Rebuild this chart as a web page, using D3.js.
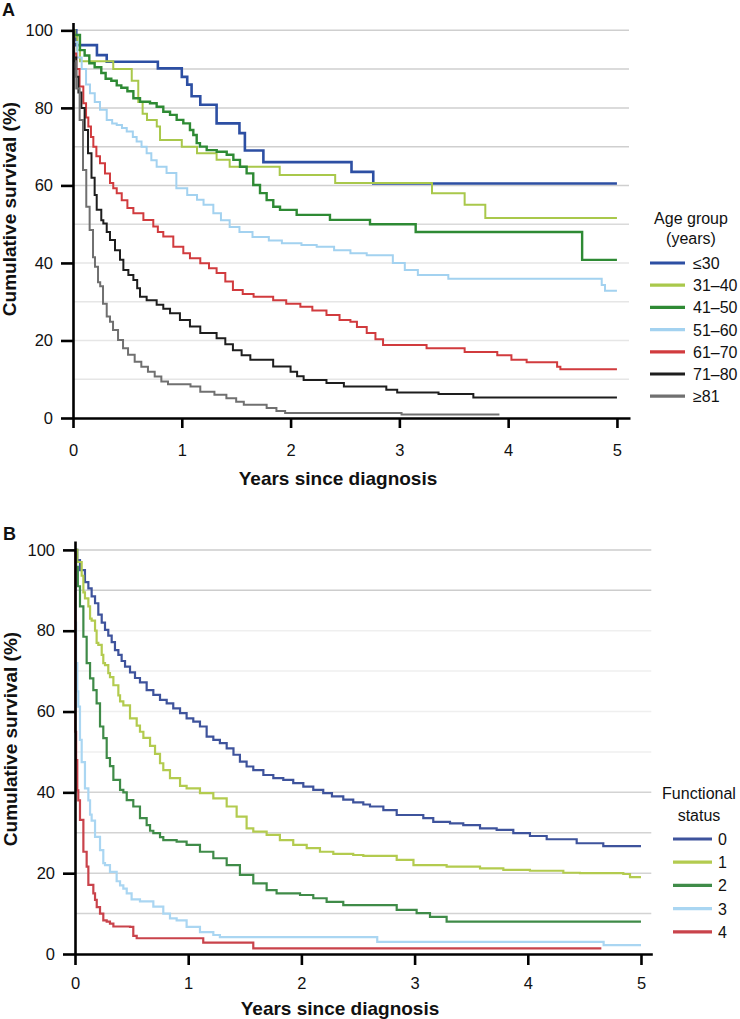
<!DOCTYPE html>
<html><head><meta charset="utf-8">
<script src="https://cdn.jsdelivr.net/npm/d3@7"></script>
<style>
body{margin:0;background:#fff}
svg{display:block}
text{font-family:"Liberation Sans",Arial,Helvetica,sans-serif;fill:#111}
</style>
</head><body>
<svg id="chart" width="740" height="1019"></svg>
<script>
// ---------- Panel A data : [years, survival %] (Kaplan–Meier steps) ----------
const ageGroups = ["≤30","31–40","41–50","51–60","61–70","71–80","≥81"];
const ageColors = ["#2d4fa3","#a9c84b","#2e8a34","#a3d2f0","#d13b3e","#1e1e1e","#707070"];
const age_le30 = [[0,100],[0.03,96.2],[0.22,93.6],[0.31,91.9],[0.78,90.2],[1.0,88],[1.05,86],[1.09,83],[1.17,80.8],[1.32,76],[1.53,73.5],[1.58,69],[1.75,66],[2.56,63.5],[2.76,60.5],[5,60.5]];
const age_31_40 = [[0,100],[0.02,98.4],[0.04,94.9],[0.064,92],[0.37,90],[0.54,87],[0.6,81.5],[0.64,78.5],[0.68,76.9],[0.77,75.2],[0.8,71.7],[1.0,70],[1.14,68.3],[1.32,66.6],[1.44,64.8],[1.9,62.7],[2.41,60.6],[3.3,58],[3.6,55],[3.79,51.6],[5,51.6]];
const age_41_50 = [[0,100],[0.01,98.8],[0.064,94.9],[0.107,93.5],[0.15,91.5],[0.199,90.5],[0.26,89],[0.3,87.5],[0.352,87],[0.402,85.8],[0.444,85.2],[0.5,84.3],[0.555,82.5],[0.616,81.6],[0.708,81.2],[0.769,80.3],[0.83,79],[0.892,78.2],[0.953,76.9],[1.014,76],[1.075,74.3],[1.106,73],[1.137,70.9],[1.167,70],[1.229,69.1],[1.321,68.7],[1.413,67.9],[1.474,66.6],[1.535,64.8],[1.596,63.1],[1.657,60.1],[1.719,58],[1.78,56.2],[1.841,54.5],[1.903,53.7],[2.056,52.4],[2.362,51.1],[2.73,50],[3.15,48],[4.68,40.8],[5,40.8]];
const age_51_60 = [[0,100],[0.01,97],[0.04,93],[0.08,90],[0.12,86],[0.156,83.8],[0.2,81.5],[0.248,79.5],[0.31,76.9],[0.36,76],[0.402,75.6],[0.45,74.8],[0.494,73.9],[0.55,72.5],[0.585,71.3],[0.63,70],[0.677,68.3],[0.72,66.5],[0.769,64.8],[0.86,63.2],[0.95,59.3],[1.05,57.5],[1.14,56.3],[1.2,55],[1.29,52.8],[1.36,51],[1.44,49.3],[1.53,48],[1.65,46.7],[1.8,45.8],[1.92,45.1],[2.1,44.6],[2.24,44.2],[2.4,43.3],[2.55,42.5],[2.7,42],[2.94,40],[3.05,38.2],[3.17,36.9],[3.45,35.9],[4.86,34.3],[4.89,32.8],[5,32.8]];
const age_61_70 = [[0,100],[0.01,94],[0.03,90],[0.06,85.5],[0.095,81.2],[0.12,77.5],[0.141,75.2],[0.165,72.5],[0.187,70],[0.215,67.5],[0.248,65.7],[0.294,63.1],[0.34,60.6],[0.37,59.3],[0.402,58],[0.448,56.2],[0.5,54.2],[0.555,52.8],[0.647,51.1],[0.738,49.4],[0.78,48],[0.83,46.8],[0.922,44.2],[1.014,42.5],[1.075,41.2],[1.17,39.9],[1.25,38.6],[1.32,37.4],[1.4,35.2],[1.47,33],[1.56,32],[1.66,31.3],[1.84,30.4],[1.96,29.5],[2.09,28.7],[2.2,27.7],[2.33,26.6],[2.45,25.3],[2.55,24.8],[2.61,23.5],[2.7,21.9],[2.78,20.3],[2.85,18.8],[3.25,18],[3.6,17],[3.9,16.2],[4.03,15],[4.17,14.4],[4.45,13.2],[4.48,12.6],[5,12.6]];
const age_71_80 = [[0,100],[0.01,93],[0.03,88],[0.05,84],[0.077,80],[0.107,74.3],[0.138,68.3],[0.17,62],[0.199,57.5],[0.218,53.7],[0.26,51],[0.279,50.2],[0.31,48],[0.34,45.9],[0.386,43.3],[0.432,40.8],[0.463,38.2],[0.509,36.9],[0.555,35.6],[0.59,33.5],[0.616,31.3],[0.677,30.4],[0.769,29.2],[0.83,28.2],[0.892,27],[0.983,25.3],[1.075,23.6],[1.17,21.9],[1.32,20.6],[1.4,19],[1.47,17.5],[1.55,16.2],[1.63,15],[1.84,13.3],[2.0,11.9],[2.06,10.8],[2.12,9.8],[2.33,9],[2.49,8.1],[2.88,7.3],[2.98,6.6],[3.36,6.2],[3.68,5.3],[5,5.3]];
const age_ge81 = [[0,100],[0.01,92],[0.03,85],[0.061,76.9],[0.092,64],[0.122,54.5],[0.153,48.5],[0.184,41.5],[0.202,39],[0.23,35],[0.25,34],[0.276,29.5],[0.31,26.2],[0.34,24.8],[0.368,22.7],[0.414,20.1],[0.46,18],[0.506,16.3],[0.567,14.5],[0.628,13.2],[0.689,11.9],[0.751,10.7],[0.812,9.4],[0.873,8.7],[1.08,8.1],[1.17,6.8],[1.3,6],[1.41,5.1],[1.5,4.2],[1.57,3.4],[1.78,2.6],[1.87,1.8],[1.95,1.3],[3.02,0.9],[3.92,0.9]];

// ---------- Panel B data ----------
const statusGroups = ["0","1","2","3","4"];
const statusColors = ["#3e539c","#b3cb4f","#3f8b48","#aad6f2","#c9434b"];
const fs_0 = [[0,100],[0.02,97.5],[0.044,95.0],[0.088,92.0],[0.118,90.5],[0.147,88.5],[0.177,86.8],[0.206,84],[0.236,82],[0.265,80.2],[0.294,78.8],[0.324,77.2],[0.353,75.2],[0.383,74.0],[0.412,72.5],[0.442,71.1],[0.486,69.7],[0.53,68.3],[0.574,67.2],[0.633,65.3],[0.692,64.1],[0.751,62.9],[0.81,62.0],[0.868,60.8],[0.928,59.6],[0.986,58.3],[1.045,57.5],[1.104,56.3],[1.163,53.8],[1.222,53.0],[1.28,52.2],[1.34,50.9],[1.4,49.3],[1.457,47.6],[1.516,46.4],[1.575,45.5],[1.664,44.3],[1.752,43.5],[1.84,43.1],[1.928,42.3],[2.017,41.4],[2.105,40.6],[2.193,39.8],[2.27,39.0],[2.37,38.2],[2.458,37.5],[2.547,37.0],[2.606,36.5],[2.724,35.6],[2.842,34.4],[3.077,33.6],[3.165,32.7],[3.313,32.3],[3.43,31.9],[3.578,31.1],[3.725,30.7],[3.872,29.9],[4.019,29.2],[4.167,28.4],[4.432,27.4],[4.667,26.7],[5,26.7]];
const fs_1 = [[0,100],[0.02,97],[0.059,93.6],[0.074,89.5],[0.088,88],[0.118,86],[0.133,83],[0.147,82.5],[0.177,80],[0.191,77],[0.206,76.5],[0.236,74],[0.25,72],[0.265,71.5],[0.294,69.5],[0.309,68.5],[0.339,66.5],[0.383,64],[0.398,62.5],[0.427,61.5],[0.486,58.3],[0.545,56.5],[0.574,55],[0.604,53.5],[0.663,51.5],[0.707,49.5],[0.751,47.2],[0.78,45.5],[0.839,43.5],[0.928,41.6],[0.986,41.0],[1.104,39.8],[1.222,38.5],[1.34,36.5],[1.428,34.0],[1.516,31.1],[1.575,30.3],[1.693,29.5],[1.81,28.2],[1.928,27.0],[2.047,26.2],[2.164,25.3],[2.282,24.8],[2.458,24.5],[2.547,24.3],[2.842,23.3],[2.99,22.0],[3.283,21.6],[3.578,21.2],[3.784,20.8],[4.019,20.6],[4.314,20.1],[4.461,20.0],[4.844,19.8],[4.903,19.0],[5,19.0]];
const fs_2 = [[0,100],[0.01,95.8],[0.025,91],[0.044,86.0],[0.074,78.5],[0.103,72],[0.133,68.2],[0.162,65.3],[0.191,62],[0.221,56.3],[0.25,53.4],[0.28,48.5],[0.309,46.5],[0.339,43.1],[0.398,40.6],[0.427,40],[0.457,38.1],[0.515,36.5],[0.574,33.6],[0.633,31.9],[0.663,30.5],[0.692,29.9],[0.751,28.9],[0.78,28.2],[0.898,27.8],[0.986,27.0],[1.104,25.3],[1.222,23.7],[1.34,22.0],[1.457,19.6],[1.575,17.5],[1.693,15.8],[1.781,15.0],[1.988,14.6],[2.105,13.8],[2.223,12.9],[2.37,12.1],[2.842,10.9],[3.018,10.1],[3.136,9.2],[3.283,8.0],[5,8.0]];
const fs_3 = [[0,100],[0.004,82],[0.01,72],[0.02,65],[0.029,61.2],[0.044,53],[0.059,47.5],[0.088,41],[0.118,38],[0.133,34.5],[0.147,33],[0.177,29],[0.221,25.7],[0.25,22.5],[0.265,22],[0.309,20.3],[0.368,18],[0.398,17],[0.427,16.2],[0.457,15.0],[0.5,13.5],[0.574,13.0],[0.692,11.7],[0.78,10.0],[0.839,8.8],[0.898,8.3],[0.986,6.7],[1.104,5.4],[1.222,4.7],[1.28,4.2],[2.67,3.0],[4.67,2.2],[5,2.2]];
const fs_4 = [[0,100],[0.003,55],[0.01,48],[0.02,40.5],[0.029,38],[0.044,33.2],[0.074,25.3],[0.103,21.6],[0.118,17.1],[0.162,15],[0.177,13.4],[0.192,11.6],[0.221,10.0],[0.25,8.3],[0.28,8.0],[0.309,7.5],[0.339,6.8],[0.486,6.7],[0.515,4.5],[0.545,3.9],[1.133,2.8],[1.575,1.4],[4.65,1.4]];

const yTickValues = [0,20,40,60,80,100];
const xTickValues = [0,1,2,3,4,5];
const gridValues = [10,20,30,40,50,60,70,80,90,100];

const svg = d3.select("#chart");

function panel(o){
  const g = svg.append("g");
  const x = d3.scaleLinear().domain([0,o.xMax]).range([o.x0,o.x1]);
  const y = d3.scaleLinear().domain([0,o.yMax]).range([o.y0,o.yTop]);

  g.selectAll("line.grid").data(gridValues).join("line")
    .attr("class","grid")
    .attr("x1",x(0)).attr("x2",x(o.xMax)-1)
    .attr("y1",d=>y(d)).attr("y2",d=>y(d))
    .attr("stroke",d=>o.gridColor(d)).attr("stroke-width",1.5);

  const line = d3.line().x(d=>x(d[0])).y(d=>y(d[1])).curve(d3.curveStepAfter);
  o.series.forEach((s,i)=>{
    g.append("path").attr("d",line(s)).attr("fill","none")
      .attr("stroke",o.colors[i]).attr("stroke-width",o.widths[i])
      .attr("stroke-linejoin","miter");
  });

  const ya = g.append("g").attr("transform",`translate(${x(0)},0)`)
    .call(d3.axisLeft(y).tickValues(yTickValues).tickFormat(d3.format("d")).tickSize(12).tickSizeOuter(0).tickPadding(8));
  const xa = g.append("g").attr("transform",`translate(0,${y(0)})`)
    .call(d3.axisBottom(x).tickValues(xTickValues).tickFormat(d3.format("d")).tickSize(o.xTick).tickSizeOuter(0).tickPadding(o.xPad));
  [ya,xa].forEach(a=>{
    a.selectAll("path.domain").attr("stroke","#000").attr("stroke-width",2.6);
    a.selectAll(".tick line").attr("stroke","#000").attr("stroke-width",2.6);
    a.selectAll(".tick text").style("font-size","16.5px").attr("fill","#111")
      .style("font-family",'"Liberation Sans",Arial,sans-serif');
  });

  svg.append("text").attr("x",o.labelX).attr("y",o.labelY)
    .style("font-size","18px").style("font-weight","bold").text(o.label);
  svg.append("text").attr("transform",`translate(${o.yTitleX},${o.yTitleY}) rotate(-90)`)
    .attr("text-anchor","middle").style("font-size","19px").style("font-weight","bold")
    .text("Cumulative survival (%)");
  svg.append("text").attr("x",o.xTitleX).attr("y",o.xTitleY)
    .attr("text-anchor","middle").style("font-size","19px").style("font-weight","bold")
    .text("Years since diagnosis");

  o.legendTitle.forEach((t,i)=>{
    svg.append("text").attr("x",o.legTitleX).attr("y",o.legTitleY+i*o.legTitleGap)
      .attr("text-anchor","middle").style("font-size","16px").text(t);
  });
  o.names.forEach((n,i)=>{
    const yy = o.legY + i*o.legGap;
    svg.append("line").attr("x1",o.legX1).attr("x2",o.legX2).attr("y1",yy).attr("y2",yy)
      .attr("stroke",o.colors[i]).attr("stroke-width",3.2);
    svg.append("text").attr("x",o.legTextX).attr("y",yy+6)
      .style("font-size","16px").text(n);
  });
}

panel({
  x0:73, x1:630, xMax:5.12, y0:418, yTop:22.6, yMax:102,
  xTick:10, xPad:16,
  gridColor:d=> d>=60 ? "#cfcfcf" : (d===50 ? "#dadada" : "#e6e6e6"),
  series:[age_le30,age_31_40,age_41_50,age_51_60,age_61_70,age_71_80,age_ge81],
  colors:ageColors, widths:[2.6,2,2.4,2,2,2,2],
  names:ageGroups,
  label:"A", labelX:2, labelY:16,
  yTitleX:16, yTitleY:209, xTitleX:338, xTitleY:485,
  legendTitle:["Age group","(years)"], legTitleX:691, legTitleY:224, legTitleGap:20,
  legY:263, legGap:22.2, legX1:650, legX2:685, legTextX:693
});

panel({
  x0:75, x1:652.3, xMax:5.1, y0:954, yTop:541, yMax:102.2,
  xTick:11, xPad:12,
  gridColor:d=> d>=90 ? "#cdcdcd" : (d>=50 ? "#efefef" : "#d3d3d3"),
  series:[fs_0,fs_1,fs_2,fs_3,fs_4],
  colors:statusColors, widths:[2.2,2.2,2.2,2.2,2.2],
  names:statusGroups,
  label:"B", labelX:3, labelY:540,
  yTitleX:17, yTitleY:739, xTitleX:340, xTitleY:1015,
  legendTitle:["Functional","status"], legTitleX:699, legTitleY:799, legTitleGap:22,
  legY:839, legGap:23.2, legX1:673, legX2:712, legTextX:718
});
</script>
</body></html>
